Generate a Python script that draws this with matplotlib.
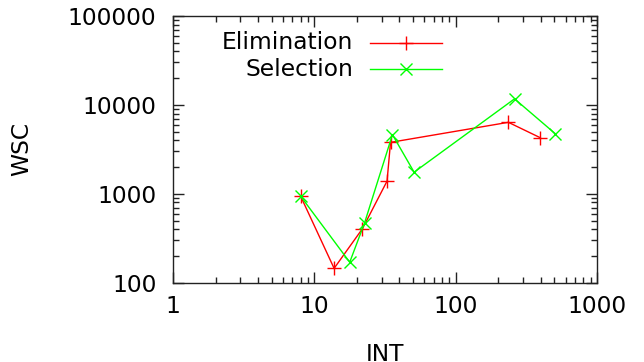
import matplotlib
matplotlib.use('Agg')
import matplotlib.pyplot as plt
from matplotlib.ticker import LogLocator, FixedLocator, NullFormatter

# values (log-log)
elim_int = [8, 13.8, 21.9, 32.7, 34.6, 236, 396]
elim_wsc = [940, 145, 405, 1390, 3790, 6370, 4280]
sel_int = [8, 17.8, 22.7, 35.7, 50.8, 261, 506]
sel_wsc = [940, 170, 474, 4630, 1750, 11700, 4750]
x_ticks = [1, 10, 100, 1000]
y_ticks = [100, 1000, 10000, 100000]

plt.rcParams['font.family'] = 'DejaVu Sans'
fs = 16.8
fig = plt.figure(figsize=(6.44, 3.62), dpi=100)
ax = fig.add_axes([173 / 644, 1 - 282.7 / 362, 424 / 644, 266.7 / 362])

ax.plot(elim_int, elim_wsc, color='#ff0000', lw=1, marker='+', ms=10, mew=1)
ax.plot(sel_int, sel_wsc, color='#00ff00', lw=1, marker='x', ms=9, mew=1)

ax.set_xscale('log')
ax.set_yscale('log')
ax.set_xlim(1, 1000)
ax.set_ylim(100, 100000)
ax.xaxis.set_major_locator(FixedLocator(x_ticks))
ax.yaxis.set_major_locator(FixedLocator(y_ticks))
ax.set_xticklabels([str(v) for v in x_ticks])
ax.set_yticklabels([str(v) for v in y_ticks])
ax.xaxis.set_minor_locator(LogLocator(base=10, subs=range(2, 10)))
ax.yaxis.set_minor_locator(LogLocator(base=10, subs=range(2, 10)))
ax.xaxis.set_minor_formatter(NullFormatter())
ax.yaxis.set_minor_formatter(NullFormatter())
ax.tick_params(which='both', direction='in', top=True, right=True, colors='#222222', labelcolor='black', width=1)
ax.tick_params(which='major', length=8, labelsize=fs)
ax.tick_params(axis='x', which='major', pad=9)
ax.tick_params(axis='y', which='major', pad=12)
ax.tick_params(which='minor', length=4)
for s in ax.spines.values():
    s.set_color('#222222')
    s.set_linewidth(1)

ax.set_xlabel('INT', fontsize=fs)
ax.set_ylabel('WSC', fontsize=fs)
ax.xaxis.set_label_coords(0.5, -0.225)
ax.yaxis.set_label_coords(-0.33, 0.5)

# gnuplot-style key: right-aligned text, sample to the right
labels = ['Elimination', 'Selection']
colors = ['#ff0000', '#00ff00']
markers = ['+', 'x']
for i, (lab, c, m) in enumerate(zip(labels, colors, markers)):
    yk = 0.899 - i * 0.098
    ax.text(0.4245, yk, lab, transform=ax.transAxes, ha='right', va='center', fontsize=fs)
    ax.plot([0.465, 0.634], [yk, yk], transform=ax.transAxes, color=c, lw=1)
    ax.plot([0.5495], [yk], transform=ax.transAxes, color=c, marker=m, ms=10 if m == '+' else 9, mew=1)

fig.savefig('out.png', dpi=100)
